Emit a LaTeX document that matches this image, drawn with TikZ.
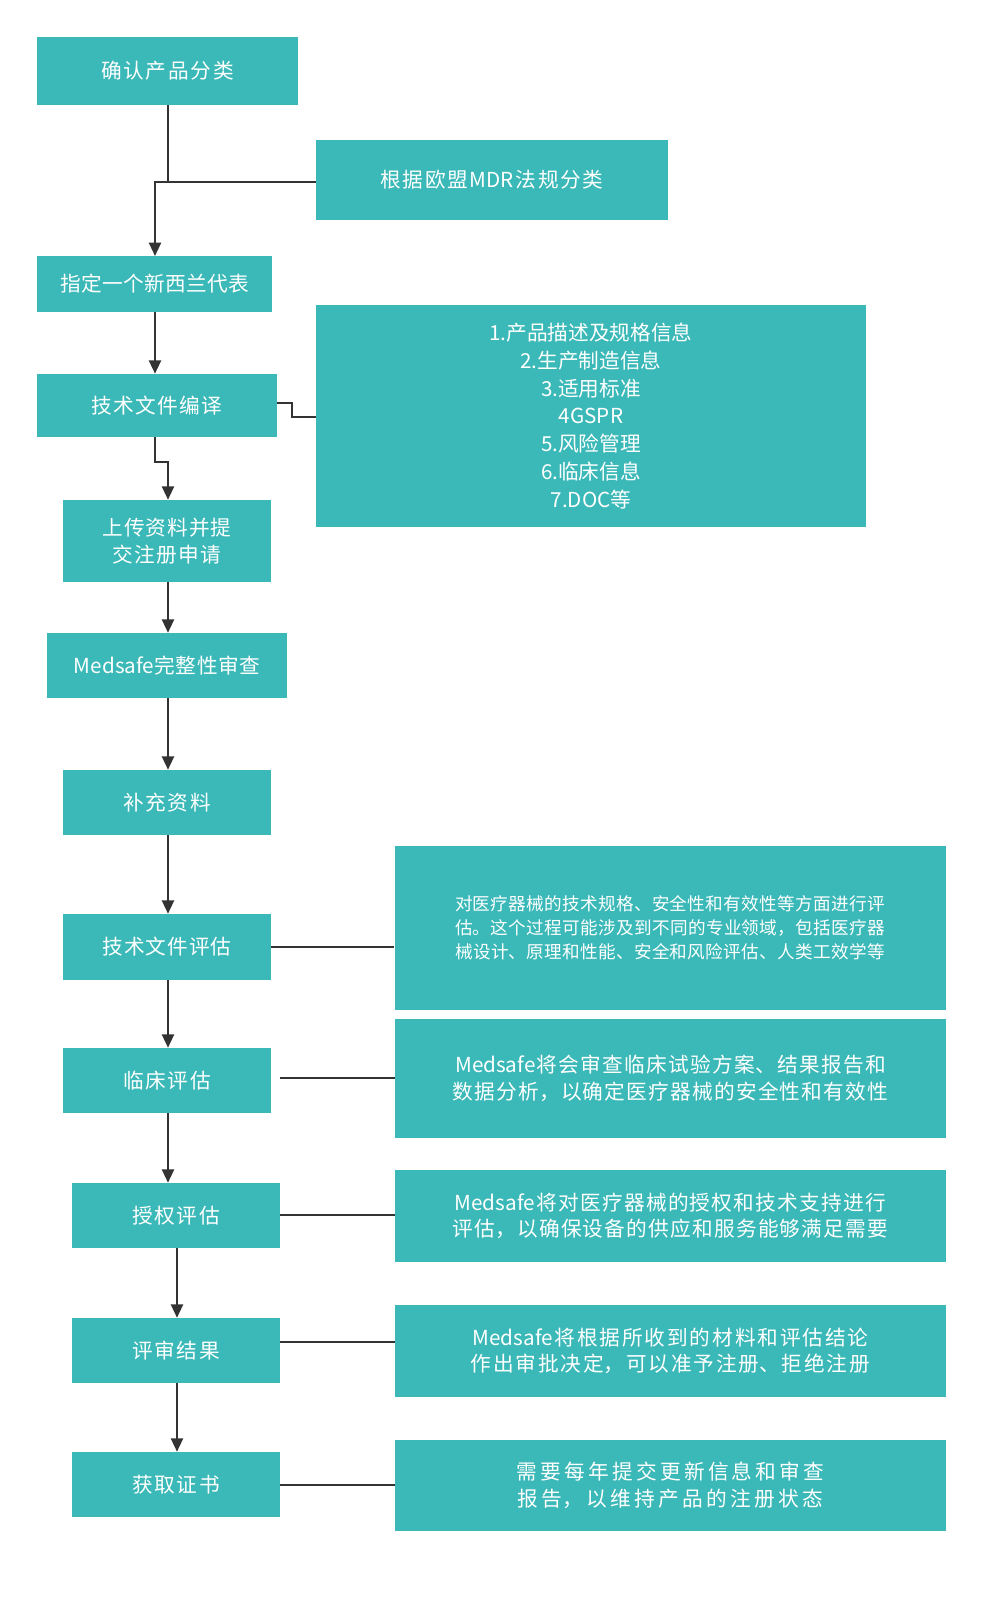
\documentclass[tikz,border=0pt]{standalone}
\usepackage{fontspec}
\setmainfont{Noto Sans CJK SC}
\XeTeXlinebreaklocale "zh"
\XeTeXlinebreakskip=0pt plus 1pt
\usetikzlibrary{arrows.meta}
\definecolor{teal1}{HTML}{3BB8B8}
\definecolor{ln}{HTML}{333333}
\begin{document}
\begin{tikzpicture}[x=0.75pt,y=-0.75pt,
 bx/.style={fill=teal1,draw=none,text=white,align=center,font=\fontsize{15.5}{20}\selectfont},
 cn/.style={draw=ln,line width=1.6pt},
 ar/.style={cn,-{Triangle[length=10pt,width=9pt]}}]
\useasboundingbox[fill=white] (0,0) rectangle (1002,1598);
\newcommand\bxx[6]{\node[bx,minimum width=(#4-#2)*0.75pt,minimum height=(#5-#3)*0.75pt,text width=(#4-#2-24)*0.75pt] (#1) at ({(#2+#4)/2},{(#3+#5)/2}) {#6};}
\newcommand\dxx[6]{\node[bx,minimum width=(#4-#2)*0.75pt,minimum height=(#5-#3)*0.75pt,text width=(#4-#2-40)*0.75pt] (#1) at ({(#2+#4)/2},{(#3+#5)/2}) {#6};}
\bxx{b1}{37}{37}{298}{105}{确认产品分类}
\bxx{b2}{316}{140}{668}{220}{根据欧盟MDR法规分类}
\bxx{b3}{37}{256}{272}{312}{指定一个新西兰代表}
\node[bx,minimum width=550*0.75pt,minimum height=222*0.75pt,font=\fontsize{15.5}{20.8}\selectfont] (b4) at (591,416) {1.产品描述及规格信息\\2.生产制造信息\\3.适用标准\\4GSPR\\5.风险管理\\6.临床信息\\7.DOC等};
\bxx{b5}{37}{374}{277}{437}{技术文件编译}
\bxx{b6}{63}{500}{271}{582}{上传资料并提交注册申请}
\bxx{b7}{47}{633}{287}{698}{Medsafe完整性审查}
\bxx{b8}{63}{770}{271}{835}{补充资料}
\bxx{b9}{63}{914}{271}{980}{技术文件评估}
\node[bx,minimum width=551*0.75pt,minimum height=164*0.75pt,text width=448*0.75pt,font=\fontsize{13.2}{18}\selectfont] (d1) at (670,928) {对医疗器械的技术规格、安全性和有效性等方面进行评估。这个过程可能涉及到不同的专业领域，包括医疗器械设计、原理和性能、安全和风险评估、人类工效学等};
\bxx{b10}{63}{1048}{271}{1113}{临床评估}
\dxx{d2}{395}{1019}{946}{1138}{Medsafe将会审查临床试验方案、结果报告和数据分析，以确定医疗器械的安全性和有效性}
\bxx{b11}{72}{1183}{280}{1248}{授权评估}
\dxx{d3}{395}{1170}{946}{1262}{Medsafe将对医疗器械的授权和技术支持进行评估，以确保设备的供应和服务能够满足需要}
\bxx{b12}{72}{1318}{280}{1383}{评审结果}
\dxx{d4}{395}{1305}{946}{1397}{Medsafe将根据所收到的材料和评估结论作出审批决定，可以准予注册、拒绝注册}
\bxx{b13}{72}{1452}{280}{1517}{获取证书}
\dxx{d5}{395}{1440}{946}{1531}{需要每年提交更新信息和审查报告，以维持产品的注册状态}
% connectors
\coordinate (j1) at (168,182);
\draw[cn] (b1.south -| j1) -- (j1) -- (j1 -| b2.west);
\draw[ar] (j1) -- (155,182) -- (155,256);
\draw[ar] (b3.south -| 155,0) -- (b5.north -| 155,0);
\draw[cn] (b5.east |- 0,403) -- (292,403) -- (292,417) -- (b4.west |- 0,417);
\draw[ar] (b5.south -| 155,0) -- (155,462) -- (168,462) -- (b6.north -| 168,0);
\draw[ar] (b6.south -| 168,0) -- (b7.north -| 168,0);
\draw[ar] (b7.south -| 168,0) -- (b8.north -| 168,0);
\draw[ar] (b8.south -| 168,0) -- (b9.north -| 168,0);
\draw[ar] (b9.south -| 168,0) -- (b10.north -| 168,0);
\draw[ar] (b10.south -| 168,0) -- (b11.north -| 168,0);
\draw[ar] (b11.south -| 177,0) -- (b12.north -| 177,0);
\draw[ar] (b12.south -| 177,0) -- (b13.north -| 177,0);
\draw[cn] (b9.east |- 0,947) -- (d1.west |- 0,947);
\draw[cn] (280,1078) -- (d2.west |- 0,1078);
\draw[cn] (b11.east |- 0,1215) -- (d3.west |- 0,1215);
\draw[cn] (b12.east |- 0,1342) -- (d4.west |- 0,1342);
\draw[cn] (b13.east |- 0,1485) -- (d5.west |- 0,1485);
\end{tikzpicture}
\end{document}
